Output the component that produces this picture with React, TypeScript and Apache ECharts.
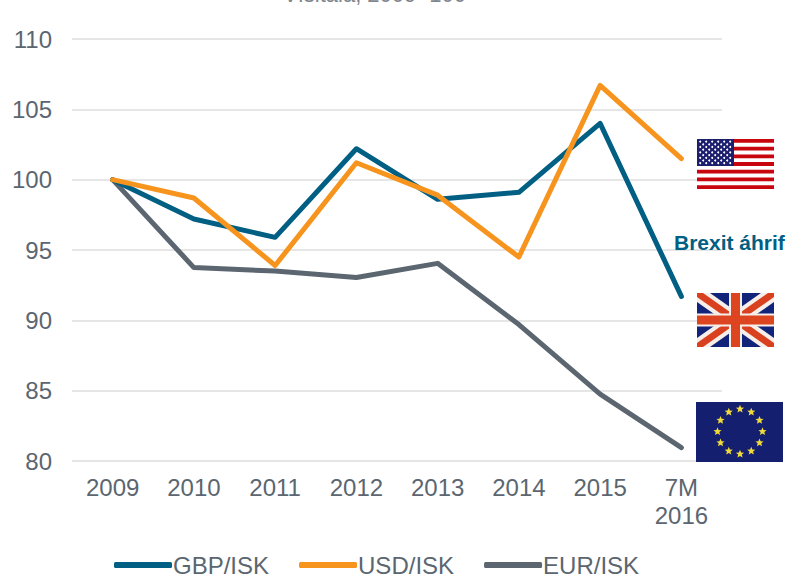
import React, { useEffect, useRef } from "react";
import * as echarts from "echarts";

const categories = ["2009", "2010", "2011", "2012", "2013", "2014", "2015", "7M\n2016"];
const gbp = [100, 97.2, 95.9, 102.2, 98.6, 99.1, 104, 91.7];
const usd = [100, 98.7, 93.9, 101.2, 98.9, 94.5, 106.7, 101.5];
const eur = [100, 93.75, 93.5, 93.05, 94.05, 89.7, 84.75, 80.95];
const FONT = "'Liberation Sans', Arial, sans-serif";
const TEXT = "#5b6670";

function starPoints(cx: number, cy: number, R: number) {
  const pts: number[][] = [];
  for (let i = 0; i < 10; i++) {
    const r = i % 2 ? R * 0.45 : R;
    const a = -Math.PI / 2 + (i * Math.PI) / 5;
    pts.push([cx + r * Math.cos(a), cy + r * Math.sin(a)]);
  }
  return pts;
}

function usFlag(): any[] {
  const x = 697, y = 139, w = 77, h = 50;
  const out: any[] = [{ type: "rect", shape: { x, y, width: w, height: h }, style: { fill: "#fff" } }];
  for (let i = 0; i < 7; i++) {
    out.push({ type: "rect", shape: { x, y: y + (i * 2 * h) / 13, width: w, height: h / 13 }, style: { fill: "#c8060d" } });
  }
  out.push({ type: "rect", shape: { x, y, width: 37, height: (7 * h) / 13 }, style: { fill: "#1c1f6e" } });
  for (let r = 0; r < 9; r++) {
    const n = r % 2 ? 5 : 6;
    for (let c = 0; c < n; c++) {
      out.push({
        type: "circle",
        shape: { cx: x + 3.2 + (r % 2 ? 3 : 0) + c * 6, cy: y + 2.6 + r * 2.7, r: 1 },
        style: { fill: "#fff" },
      });
    }
  }
  return out;
}

function diagonals(x: number, y: number, r: number, b: number, a: number, c: number, fill: string): any[] {
  return [
    { type: "polygon", shape: { points: [[x, y], [x + a, y], [r, b - c], [r, b], [r - a, b], [x, y + c]] }, style: { fill } },
    { type: "polygon", shape: { points: [[r, y], [r - a, y], [x, b - c], [x, b], [x + a, b], [r, y + c]] }, style: { fill } },
  ];
}

function ukFlag(): any[] {
  const x = 697, y = 293, w = 77, h = 54;
  const r = x + w, b = y + h, cx = x + w / 2, cy = y + h / 2;
  return [
    { type: "rect", shape: { x, y, width: w, height: h }, style: { fill: "#12247a" } },
    ...diagonals(x, y, r, b, 13, 9, "#f6efe9"),
    ...diagonals(x, y, r, b, 6, 4, "#d9401f"),
    { type: "rect", shape: { x: cx - 6.5, y, width: 13, height: h }, style: { fill: "#f6efe9" } },
    { type: "rect", shape: { x, y: cy - 6.5, width: w, height: 13 }, style: { fill: "#f6efe9" } },
    { type: "rect", shape: { x: cx - 4.5, y, width: 9, height: h }, style: { fill: "#dc4520" } },
    { type: "rect", shape: { x, y: cy - 4.5, width: w, height: 9 }, style: { fill: "#dc4520" } },
  ];
}

function euFlag(): any[] {
  const x = 696, y = 402, w = 87, h = 60;
  const out: any[] = [{ type: "rect", shape: { x, y, width: w, height: h }, style: { fill: "#14206f" } }];
  const cx = 740, cy = 431.5;
  for (let i = 0; i < 12; i++) {
    const a = (i * Math.PI) / 6 - Math.PI / 2;
    out.push({
      type: "polygon",
      shape: { points: starPoints(cx + 22.5 * Math.cos(a), cy + 22.5 * Math.sin(a), 4.3) },
      style: { fill: "#f0d93a" },
    });
  }
  return out;
}

function line(name: string, data: number[], color: string) {
  return {
    name,
    type: "line",
    data,
    symbol: "none",
    lineStyle: { color, width: 5, cap: "round", join: "round" },
    itemStyle: { color },
  };
}

export default function App() {
  const ref = useRef<HTMLDivElement>(null);
  useEffect(() => {
    const chart = echarts.init(ref.current!, undefined, { renderer: "svg" });
    const flags = [...usFlag(), ...ukFlag(), ...euFlag()].map((e) => ({ ...e, z: 100 }));
    chart.setOption({
      animation: false,
      backgroundColor: "#fff",
      textStyle: { fontFamily: FONT },
      grid: { left: 72, right: 67, top: 39, bottom: 116 },
      legend: {
        left: 114,
        top: 553,
        icon: "roundRect",
        itemWidth: 58,
        itemHeight: 6,
        itemGap: 30,
        padding: 0,
        textStyle: { fontSize: 24, lineHeight: 22, color: TEXT, fontFamily: FONT, padding: [0, 0, 0, -4] },
        data: ["GBP/ISK", "USD/ISK", "EUR/ISK"],
      },
      xAxis: {
        type: "category",
        data: categories,
        boundaryGap: true,
        axisLine: { show: false },
        axisTick: { show: false },
        axisLabel: { fontSize: 24, color: TEXT, fontFamily: FONT, margin: 12, lineHeight: 28, interval: 0 },
      },
      yAxis: {
        type: "value",
        min: 80,
        max: 110,
        interval: 5,
        axisLine: { show: false },
        axisTick: { show: false },
        axisLabel: { fontSize: 24, color: TEXT, fontFamily: FONT, margin: 20, padding: [0, 0, 2, 0] },
        splitLine: { lineStyle: { color: "#e6e6e6", width: 2 } },
      },
      series: [line("EUR/ISK", eur, "#5b6670"), line("GBP/ISK", gbp, "#005f83"), line("USD/ISK", usd, "#f7941e")],
      graphic: [
        { type: "text", left: 674, top: 232, z: 100, style: { text: "Brexit áhrif", font: `bold 21px ${FONT}`, fill: "#005f83" } },
        { type: "text", left: 283, top: -17, z: 100, style: { text: "Vísitala, 2009=100", font: `22px ${FONT}`, fill: "#7f868d" } },
        ...flags,
      ],
    });
    return () => chart.dispose();
  }, []);
  return <div ref={ref} style={{ position: "absolute", left: 0, top: 0, width: 789, height: 577 }} />;
}
